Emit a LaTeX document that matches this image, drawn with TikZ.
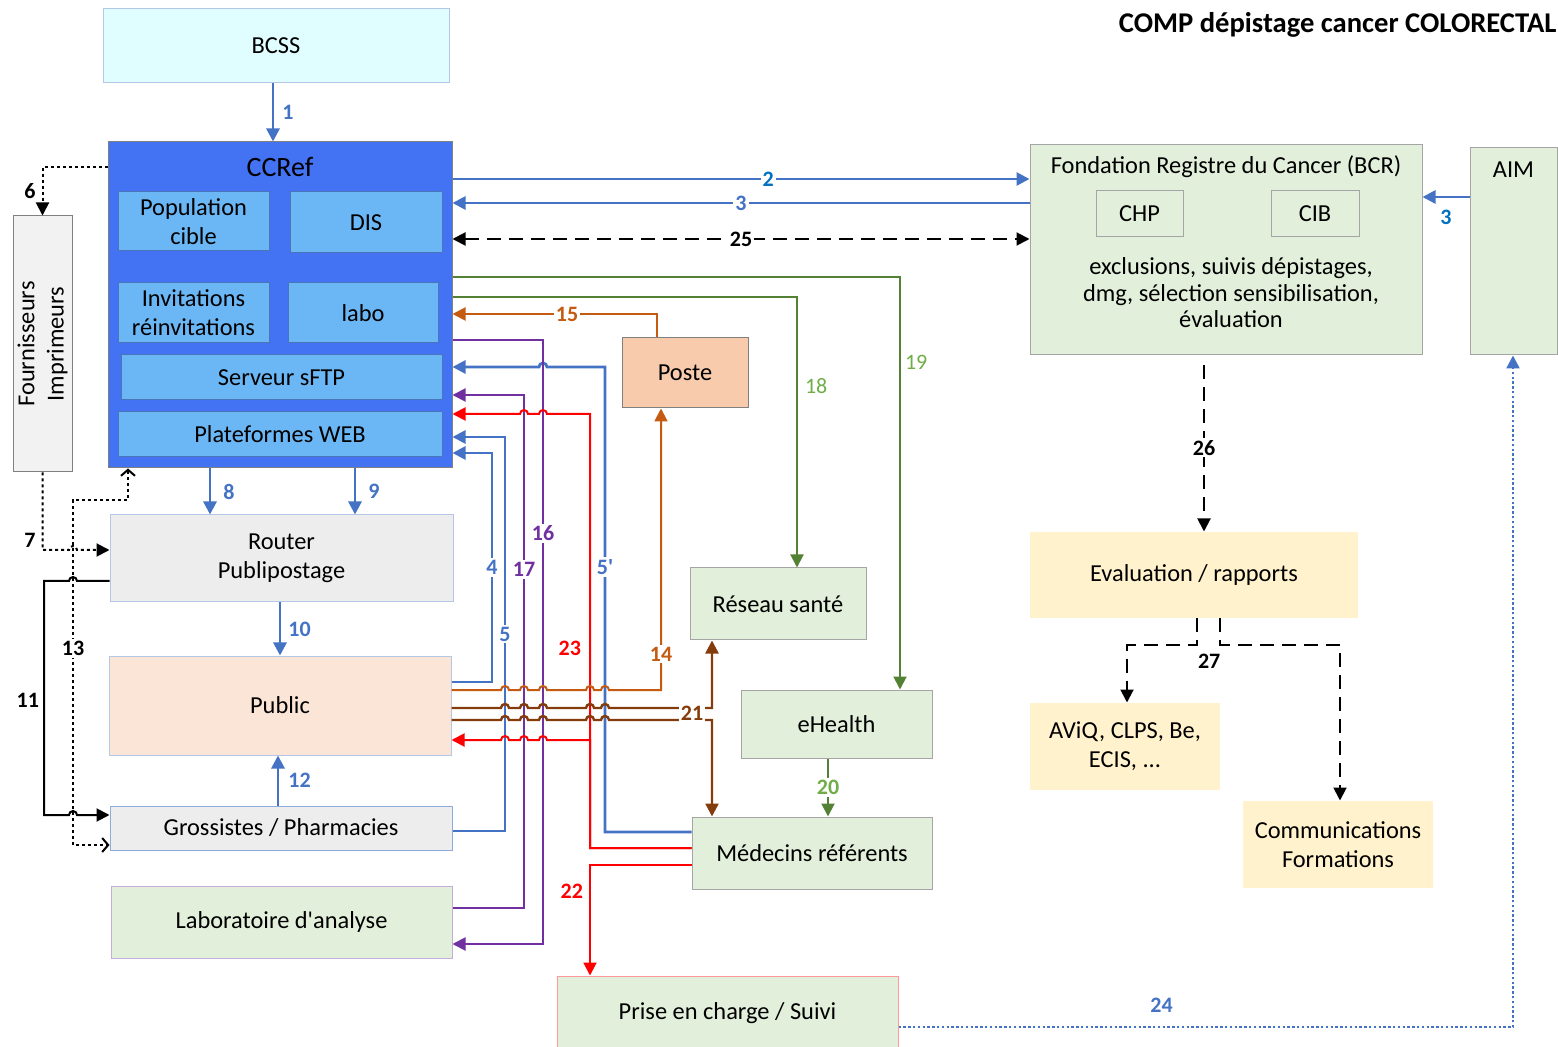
\documentclass[tikz,border=0pt]{standalone}
\usepackage{fontspec}
\setmainfont{Carlito}
\usetikzlibrary{arrows.meta}

\definecolor{lnblue}{HTML}{4472C4}
\definecolor{lnbluetwo}{HTML}{0070C0}
\definecolor{lnpurple}{HTML}{7030A0}
\definecolor{lnorange}{HTML}{C55A11}
\definecolor{lnbrown}{HTML}{843C0C}
\definecolor{lngreen}{HTML}{548235}
\definecolor{lblgreen}{HTML}{70AD47}
\definecolor{ccblue}{HTML}{4372F3}
\definecolor{subblue}{HTML}{6BB7F5}
\definecolor{subedge}{HTML}{4A75B8}
\definecolor{bcssfill}{HTML}{E0FDFF}
\definecolor{lightedge}{HTML}{B4C7E7}
\definecolor{greyfill}{HTML}{EDEDED}
\definecolor{fournfill}{HTML}{F2F2F2}
\definecolor{peach}{HTML}{FBE5D6}
\definecolor{postefill}{HTML}{F8CBAD}
\definecolor{greenfill}{HTML}{E2EFDA}
\definecolor{yellowfill}{HTML}{FFF2CC}
\definecolor{edgegrey}{HTML}{A5A5A5}

\tikzset{
  box/.style={draw=edgegrey, line width=0.5pt, inner sep=0pt, align=center},
  sz/.style 2 args={minimum width=#1*0.5pt, minimum height=#2*0.5pt},
  sub/.style={box, fill=subblue, draw=subedge},
  lbl/.style={font=\fontsize{11}{12}\selectfont\bfseries, inner sep=1pt},
  lblbg/.style={lbl, fill=white},
  bluel/.style={draw=lnblue, line width=1.4pt, ->},
  greenl/.style={draw=lngreen, line width=1pt, ->},
  purplel/.style={draw=lnpurple, line width=1pt, ->},
  redl/.style={draw=red, line width=1pt, ->},
  orangel/.style={draw=lnorange, line width=1pt, ->},
  brownl/.style={draw=lnbrown, line width=1.2pt, ->},
  dotl/.style={black, line width=1pt, dash pattern=on 1.5pt off 1.5pt},
  dashl/.style={black, line width=1pt, dash pattern=on 7pt off 4pt, ->},
}

\begin{document}
\begin{tikzpicture}[x=0.5pt,y=-0.5pt,font=\fontsize{12.2}{14.6}\selectfont,
  >={Triangle[length=6.5pt,width=6.5pt]}]
\useasboundingbox (0,0) rectangle (1558,1047);

% titre
\node[anchor=east, inner sep=0pt, font=\fontsize{14.3}{16}\selectfont\bfseries] (title) at (1557,25) {COMP dépistage cancer COLORECTAL};

% colonne de gauche
\node[box, sz={346}{74}, fill=bcssfill, draw=lightedge] (bcss) at (276,46) {BCSS};
\node[box, sz={344}{326}, fill=ccblue, draw=gray] (ccref) at (280,305) {};
\node[font=\fontsize{14}{16}\selectfont] (ccreft) at (280,167) {CCRef};
\node[sub, sz={151}{59}] (pop) at (193.5,221.5) {Population\\cible};
\node[sub, sz={152}{61}] (dis) at (366,222.5) {DIS};
\node[sub, sz={151}{60}] (invit) at (193.5,313) {Invitations\\réinvitations};
\node[sub, sz={150}{60}] (labo) at (363,313) {labo};
\node[sub, sz={321}{45}] (sftp) at (281.5,377.5) {Serveur sFTP};
\node[sub, sz={324}{45}] (web) at (280,434.5) {Plateformes WEB};
\node[box, sz={59}{256}, fill=fournfill, draw=gray,
  label={[rotate=90, align=center]center:Fournisseurs\\Imprimeurs}] (fourn) at (42.5,344) {};
\node[box, sz={343}{87}, fill=greyfill, draw=lightedge] (router) at (281.5,558.5) {Router\\Publipostage};
\node[box, sz={342}{99}, fill=peach, draw=lightedge] (public) at (280,705.5) {Public};
\node[box, sz={342}{44}, fill=greyfill, draw=lnblue!60] (gross) at (281,828) {Grossistes / Pharmacies};
\node[box, sz={341}{72}, fill=greenfill, draw=lnpurple!40] (labanal) at (281.5,922) {Laboratoire d\textquotesingle analyse};

% milieu
\node[box, sz={126}{70}, fill=postefill, draw=gray] (poste) at (685,373) {Poste};
\node[box, sz={176}{72}, fill=greenfill] (reseau) at (778,604) {Réseau santé};
\node[box, sz={191}{68}, fill=greenfill] (ehealth) at (836.5,724) {eHealth};
\node[box, sz={240}{72}, fill=greenfill] (medecins) at (812,853) {Médecins référents};
\node[box, sz={341}{74}, fill=greenfill, draw=red!40] (prise) at (727.5,1013) {Prise en charge / Suivi};

% droite
\node[box, sz={392}{210}, fill=greenfill] (bcr) at (1226,250) {};
\node (bcrt) at (1226,167) {Fondation Registre du Cancer (BCR)};
\node[box, sz={87}{46}, fill=greenfill] (chp) at (1139.5,214) {CHP};
\node[box, sz={88}{46}, fill=greenfill] (cib) at (1315,214) {CIB};
\node[align=center, font=\fontsize{12.2}{13.3}\selectfont] (bcrtxt) at (1231,293) {exclusions, suivis dépistages,\\dmg, sélection sensibilisation,\\évaluation};
\node[box, sz={87}{207}, fill=greenfill] (aim) at (1513.5,251.5) {};
\node (aimt) at (1513.5,170) {AIM};
\node[box, sz={328}{86}, fill=yellowfill, draw=none] (eval) at (1194,575) {Evaluation / rapports};
\node[box, sz={190}{87}, fill=yellowfill, draw=none] (aviq) at (1125,746.5) {AViQ, CLPS, Be,\\ECIS, ...};
\node[box, sz={190}{87}, fill=yellowfill, draw=none] (comm) at (1338,844.5) {Communications\\Formations};

% flux bleus
\draw[bluel] (bcss.south -| 273,0) -- node[lbl, right=3pt, text=lnblue]{1} (ccref.north -| 273,0);
\draw[bluel] (ccref.east |- 0,179) -- node[lblbg, pos=.547, text=lnbluetwo]{2} (bcr.west |- 0,179);
\draw[bluel] (bcr.west |- 0,203) -- node[lblbg, text=lnblue]{3} (ccref.east |- 0,203);
\draw[bluel] (aim.west |- 0,197) -- node[lbl, below=5pt, text=lnbluetwo]{3} (bcr.east |- 0,197);
\draw[bluel] (ccref.south -| 210,0) -- node[lbl, right=5pt, text=lnblue]{8} (router.north -| 210,0);
\draw[bluel] (ccref.south -| 355,0) -- node[lbl, right=5pt, text=lnblue]{9} (router.north -| 355,0);
\draw[bluel] (router.south -| 280,0) -- node[lbl, right=2.5pt, text=lnblue]{10} (public.north -| 280,0);
\draw[bluel] (gross.north -| 278,0) -- node[lbl, right=3.5pt, text=lnblue]{12} (public.south -| 278,0);
\draw[bluel] (public.east |- 0,682) -| node[lblbg, pos=.75, text=lnblue]{4} (492,453) -- (ccref.east |- 0,453);
\draw[bluel] (gross.east |- 0,831) -| node[lblbg, pos=.75, text=lnblue]{5} (505,437) -- (ccref.east |- 0,437);
\draw[bluel] (medecins.west |- 0,832) -| node[lblbg, pos=.785, text=lnblue]{5\textquotesingle} (605,367)
  -- (547,367) arc[start angle=0, end angle=-180, radius=4] -- (ccref.east |- 0,367);
\draw[bluel, line width=1.2pt, dash pattern=on 1.2pt off 1.2pt] (prise.east |- 0,1027) -| node[lbl, pos=.214, above=5.5pt, text=lnblue]{24} (aim.south -| 1513,0);

% flux violets
\draw[purplel] (labanal.east |- 0,908) -| node[lblbg, pos=.83, text=lnpurple]{17} (524,395) -- (ccref.east |- 0,395);
\draw[purplel] (ccref.east |- 0,340) -| node[lblbg, pos=.66, text=lnpurple]{16} (543,944) -- (labanal.east |- 0,944);

% flux rouges
\draw[redl] (medecins.west |- 0,848) -| node[lbl, pos=.73, left=3pt, text=red]{23} (590,414)
  foreach \h in {543,524}{ -- (\h+4,414) arc[start angle=0, end angle=-180, radius=4] } -- (ccref.east |- 0,414);
\draw[redl] (medecins.west |- 0,848) -| (590,740)
  foreach \h in {543,524,505}{ -- (\h+4,740) arc[start angle=0, end angle=-180, radius=4] } -- (public.east |- 0,740);
\draw[redl] (medecins.west |- 0,865) -| node[lbl, pos=.62, left=2pt, text=red]{22} (prise.north -| 590,0);

% flux orange
\draw[orangel] (public.east |- 0,690)
  foreach \h in {505,524,543,590,605}{ -- (\h-4,690) arc[start angle=180, end angle=360, radius=4] }
  -- (661,690) -- node[lblbg, pos=.128, text=lnorange]{14} (poste.south -| 661,0);
\draw[orangel] (poste.north -| 657,0) |- node[lblbg, pos=.72, text=lnorange]{15} (ccref.east |- 0,314);

% flux bruns
\draw[brownl] (public.east |- 0,708)
  foreach \h in {505,524,543,590,605}{ -- (\h-4,708) arc[start angle=180, end angle=360, radius=4] }
  -- (712,708) -- (reseau.south -| 712,0);
\draw[brownl] (public.east |- 0,720)
  foreach \h in {505,524,543,590,605}{ -- (\h-4,720) arc[start angle=180, end angle=360, radius=4] }
  -- (712,720) -- (medecins.north -| 712,0);
\node[lblbg, text=lnbrown] (l21) at (692,713) {21};

% flux verts
\draw[greenl] (ccref.east |- 0,297) -| node[lbl, pos=.664, right=2.5pt, text=lblgreen, font=\fontsize{11}{12}\selectfont]{18} (reseau.north -| 797,0);
\draw[greenl] (ccref.east |- 0,277) -| node[lbl, pos=.603, right=1pt, text=lblgreen, font=\fontsize{11}{12}\selectfont]{19} (ehealth.north -| 900,0);
\draw[greenl] (ehealth.south -| 828,0) -- node[lblbg, text=lblgreen]{20} (medecins.north -| 828,0);

% flux noirs
\draw[dashl, <->] (ccref.east |- 0,239) -- node[lblbg]{25} (bcr.west |- 0,239);
\draw[dotl, ->] (ccref.west |- 0,167) -| node[lbl, pos=.75, left=2pt]{6} (fourn.north);
\draw[dotl, ->] (fourn.south) |- node[lbl, pos=.436, left=2pt]{7} (69,550)
  arc[start angle=180, end angle=360, radius=4] -- (router.west |- 0,550);
\draw[dotl, {Straight Barb[length=3pt,width=7pt]}-{Straight Barb[length=3pt,width=7pt]}]
  (ccref.south -| 128,0) |- (73,500) -- node[lblbg, pos=.43]{13} (73,845) -- (gross.west |- 0,845);
\draw[black, line width=1pt, ->] (router.west |- 0,581) -- (77,581) arc[start angle=0, end angle=-180, radius=4]
  -- (44,581) -- node[lbl, pos=.51, left=1pt]{11} (44,815)
  -- (69,815) arc[start angle=180, end angle=360, radius=4] -- (gross.west |- 0,815);
\draw[dashl, shorten <=5pt] (bcr.south -| 1204,0) -- node[lblbg, pos=.525]{26} (eval.north -| 1204,0);
\draw[dashl] (eval.south -| 1197,0) -- (1197,645) node[lbl, below right=1pt, xshift=-2pt, yshift=-2pt]{27} -| (aviq.north -| 1127,0);
\draw[dashl] (eval.south -| 1220,0) -- (1220,645) -| (comm.north -| 1340,0);
\end{tikzpicture}
\end{document}
